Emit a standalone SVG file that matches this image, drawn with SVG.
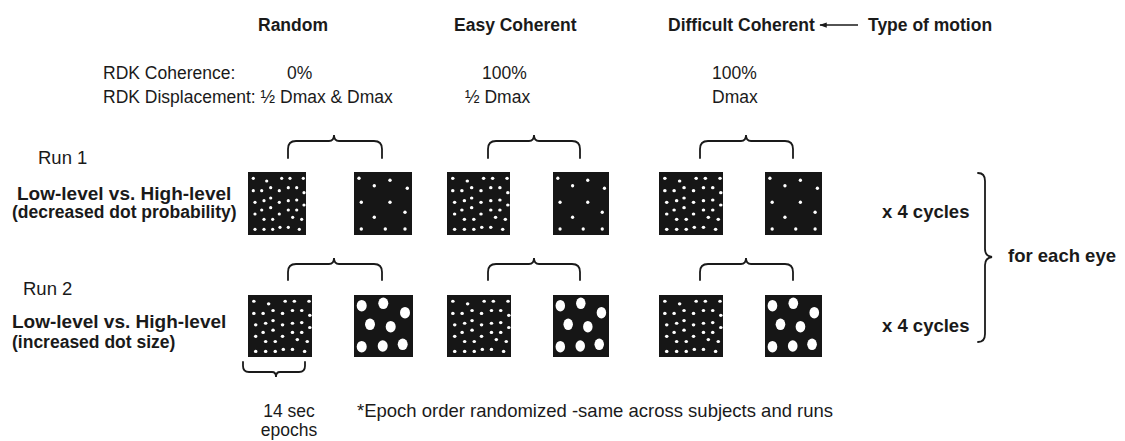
<svg xmlns="http://www.w3.org/2000/svg" xmlns:xlink="http://www.w3.org/1999/xlink" width="1125" height="441" viewBox="0 0 1125 441">
  <style>
    text { font-family: "Liberation Sans", Arial, sans-serif; fill: #1a1a1a; }
    .hd { font-weight: bold; font-size: 17.5px; }
    .lbl { font-size: 17.5px; }
    .note { font-size: 18.5px; }
    .run { font-size: 18.5px; }
    .cond { font-weight: bold; font-size: 19px; }
    .sub { font-weight: bold; font-size: 17.5px; }
    .side { font-weight: bold; font-size: 18.5px; }
    .brace { fill: none; stroke: #1a1a1a; stroke-width: 1.8; stroke-linecap: round; }
    .dot { fill: #ffffff; }
    .bg { fill: #161616; }
  </style>
  <defs>
    <!-- dense field of small dots (low-level stimulus) -->
    <symbol id="dense" viewBox="0 0 58 63" preserveAspectRatio="none">
      <rect class="bg" width="58" height="63"/>
      <g class="dot">
        <circle cx="5.3" cy="6.3" r="1.6"/><circle cx="18.7" cy="9" r="1.6"/><circle cx="33.7" cy="6.3" r="1.6"/><circle cx="42" cy="6.3" r="1.6"/><circle cx="55.3" cy="6.3" r="1.6"/>
        <circle cx="5.3" cy="18.7" r="1.6"/><circle cx="13.7" cy="18.7" r="1.6"/><circle cx="22.7" cy="15.7" r="1.6"/><circle cx="31.3" cy="18.7" r="1.6"/><circle cx="40.3" cy="15.7" r="1.6"/><circle cx="48.7" cy="15.7" r="1.6"/><circle cx="56" cy="20.7" r="1.6"/>
        <circle cx="7" cy="30.3" r="1.6"/><circle cx="16" cy="28.7" r="1.6"/><circle cx="22.7" cy="26" r="1.6"/><circle cx="31.3" cy="30.3" r="1.6"/><circle cx="40.3" cy="28.7" r="1.6"/><circle cx="48.7" cy="28" r="1.6"/><circle cx="56" cy="33" r="1.6"/>
        <circle cx="7" cy="42" r="1.6"/><circle cx="13.7" cy="38" r="1.6"/><circle cx="22.7" cy="35.7" r="1.6"/><circle cx="31.3" cy="42" r="1.6"/><circle cx="40.3" cy="38" r="1.6"/><circle cx="48.7" cy="38" r="1.6"/>
        <circle cx="16" cy="47.3" r="1.6"/><circle cx="24.7" cy="47.3" r="1.6"/><circle cx="44.7" cy="45.3" r="1.6"/><circle cx="53.7" cy="47.3" r="1.6"/>
        <circle cx="7" cy="57.3" r="1.6"/><circle cx="16" cy="57.3" r="1.6"/><circle cx="24.7" cy="57.3" r="1.6"/><circle cx="32" cy="55.3" r="1.6"/><circle cx="40.3" cy="55.3" r="1.6"/><circle cx="51.3" cy="57.3" r="1.6"/>
      </g>
    </symbol>
    <!-- sparse dots (decreased dot probability) -->
    <symbol id="sparse" viewBox="0 0 58 63" preserveAspectRatio="none">
      <rect class="bg" width="58" height="63"/>
      <g class="dot">
        <circle cx="5" cy="6.3" r="1.7"/><circle cx="20.3" cy="13.7" r="1.7"/><circle cx="36" cy="8.3" r="1.7"/><circle cx="53.3" cy="16.3" r="1.7"/>
        <circle cx="7.3" cy="30.3" r="1.7"/><circle cx="36" cy="30.3" r="1.7"/><circle cx="51" cy="40.3" r="1.7"/><circle cx="20.3" cy="45.3" r="1.7"/>
        <circle cx="7.3" cy="57" r="1.7"/><circle cx="31.3" cy="57" r="1.7"/><circle cx="51" cy="57" r="1.7"/>
      </g>
    </symbol>
    <!-- large dots (increased dot size) -->
    <symbol id="big" viewBox="0 0 59 62" preserveAspectRatio="none">
      <rect class="bg" width="59" height="62"/>
      <g class="dot">
        <ellipse cx="7.7" cy="10.7" rx="5" ry="5.8"/><ellipse cx="29.3" cy="8.3" rx="5" ry="5.8"/><ellipse cx="51" cy="17.7" rx="5" ry="5.8"/>
        <ellipse cx="16" cy="29.3" rx="5" ry="5.8"/><ellipse cx="36.7" cy="31.7" rx="5" ry="5.8"/>
        <ellipse cx="7.7" cy="51.7" rx="5" ry="5.8"/><ellipse cx="28.7" cy="51" rx="5" ry="5.8"/><ellipse cx="48.7" cy="49.3" rx="5" ry="5.8"/>
      </g>
    </symbol>
    <marker id="arrowhead" viewBox="0 0 10 10" refX="9" refY="5" markerWidth="6" markerHeight="5" markerUnits="strokeWidth" orient="auto">
      <path d="M0,1.5 L10,5 L0,8.5 Z" fill="#1a1a1a"/>
    </marker>
  </defs>

  <!-- column headings -->
  <g id="headings">
    <text class="hd" x="258" y="31">Random</text>
    <text class="hd" x="454" y="31">Easy Coherent</text>
    <text class="hd" x="668" y="31">Difficult Coherent</text>
    <text class="hd" x="868" y="31">Type of motion</text>
  </g>

  <!-- stimulus parameters -->
  <g id="params">
    <text class="lbl" x="103" y="79">RDK Coherence:</text>
    <text class="lbl" x="287" y="79">0%</text>
    <text class="lbl" x="482" y="79">100%</text>
    <text class="lbl" x="712" y="79">100%</text>
    <text class="lbl" x="103" y="103">RDK Displacement: ½ Dmax &amp; Dmax</text>
    <text class="lbl" x="465" y="103">½ Dmax</text>
    <text class="lbl" x="712" y="103">Dmax</text>
  </g>

  <!-- run labels -->
  <g id="run1-label">
    <text class="run" x="38" y="164">Run 1</text>
    <text class="cond" x="17" y="200">Low-level vs. High-level</text>
    <text class="sub" x="12" y="218">(decreased dot probability)</text>
  </g>
  <g id="run2-label">
    <text class="run" x="23" y="295">Run 2</text>
    <text class="cond" x="12" y="328">Low-level vs. High-level</text>
    <text class="sub" x="12" y="348">(increased dot size)</text>
  </g>

  <!-- Run 1 stimuli -->
  <g id="run1-random-low"><use xlink:href="#dense" x="248" y="172" width="58" height="63"/></g>
  <g id="run1-random-high"><use xlink:href="#sparse" x="354" y="172" width="58" height="63"/></g>
  <g id="run1-easy-low"><use xlink:href="#dense" x="447" y="172" width="63" height="63"/></g>
  <g id="run1-easy-high"><use xlink:href="#sparse" x="553" y="172" width="56" height="63"/></g>
  <g id="run1-difficult-low"><use xlink:href="#dense" x="659" y="172" width="64" height="63"/></g>
  <g id="run1-difficult-high"><use xlink:href="#sparse" x="765" y="172" width="57" height="63"/></g>

  <!-- Run 2 stimuli -->
  <g id="run2-random-low"><use xlink:href="#dense" x="248" y="295" width="64" height="62"/></g>
  <g id="run2-random-high"><use xlink:href="#big" x="354" y="295" width="59" height="62"/></g>
  <g id="run2-easy-low"><use xlink:href="#dense" x="447" y="295" width="64" height="62"/></g>
  <g id="run2-easy-high"><use xlink:href="#big" x="553" y="295" width="56" height="62"/></g>
  <g id="run2-difficult-low"><use xlink:href="#dense" x="659" y="295" width="64" height="62"/></g>
  <g id="run2-difficult-high"><use xlink:href="#big" x="765" y="295" width="57" height="62"/></g>

  <!-- right-hand annotations -->
  <g id="cycles">
    <text class="side" x="882" y="218">x 4 cycles</text>
    <text class="side" x="882" y="332">x 4 cycles</text>
    <text class="side" x="1008" y="262">for each eye</text>
  </g>

  <!-- epoch note -->
  <g id="epoch-note">
    <text class="lbl" x="289" y="417" text-anchor="middle">14 sec</text>
    <text class="lbl" x="289" y="436" text-anchor="middle">epochs</text>
    <text class="note" x="357" y="417">*Epoch order randomized -same across subjects and runs</text>
  </g>

  <!-- braces and arrow -->
  <g id="connectors">
    <path class="brace" d="M288 158 V149 Q288 141 296 141 H329 Q334 141 334 135 Q334 141 339 141 H374 Q382 141 382 149 V158"/>
    <path class="brace" d="M488 158 V149 Q488 141 496 141 H529 Q534 141 534 135 Q534 141 539 141 H572 Q580 141 580 149 V158"/>
    <path class="brace" d="M700 158 V149 Q700 141 708 141 H741 Q746 141 746 135 Q746 141 751 141 H785 Q793 141 793 149 V158"/>
    <path class="brace" d="M288 280 V272 Q288 264 296 264 H329 Q334 264 334 258 Q334 264 339 264 H374 Q382 264 382 272 V280"/>
    <path class="brace" d="M488 280 V272 Q488 264 496 264 H529 Q534 264 534 258 Q534 264 539 264 H572 Q580 264 580 272 V280"/>
    <path class="brace" d="M700 280 V272 Q700 264 708 264 H741 Q746 264 746 258 Q746 264 751 264 H785 Q793 264 793 272 V280"/>
    <path class="brace" d="M243 362 V366 Q243 372 249 372 H272 Q276 372 276 377 Q276 372 280 372 H299 Q305 372 305 366 V362"/>
    <path class="brace" d="M978 173 Q985 173 985 181 V249 Q985 256 992 257 Q985 258 985 265 V334 Q985 342 978 342"/>
    <line x1="858" y1="25" x2="820" y2="25" stroke="#1a1a1a" stroke-width="1.5" marker-end="url(#arrowhead)"/>
  </g>
</svg>
